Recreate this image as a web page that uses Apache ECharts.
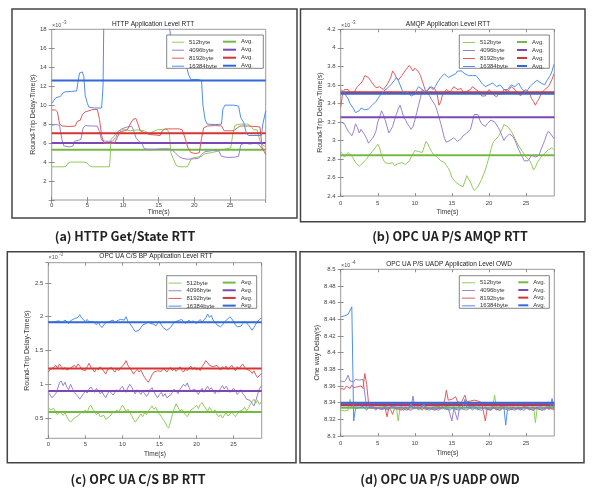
<!DOCTYPE html>
<html><head><meta charset="utf-8">
<script src="https://cdn.jsdelivr.net/npm/echarts@6/dist/echarts.min.js"></script>
<style>html,body{margin:0;padding:0;background:#fff}#c{width:602px;height:488px}</style>
</head><body><div id="c"></div>
<script>
// ---------- names ----------
const sizeNames = ['512byte', '4096byte', '8192byte', '16384byte'];
const avgNames = ['Avg.', 'Avg. ', 'Avg.  ', 'Avg.   '];
const panelTitles = ['HTTP Application Level RTT', 'AMQP Application Level RTT',
  'OPC UA C/S BP Application Level RTT', 'OPC UA P/S UADP Application Level OWD'];
const captions = ['(a) HTTP Get/State RTT', '(b) OPC UA P/S AMQP RTT', '(c) OPC UA C/S BP RTT', '(d) OPC UA P/S UADP OWD'];
const yNames = ['Round-Trip Delay-Time(s)', 'Round-Trip Delay-Time(s)', 'Round-Trip Delay-Time(s)', 'One way Delay(s)'];
const exponents = ['-3', '-3', '-3', '-4'];

// ---------- (a) HTTP, [time s, RTT x1e-3 s] ----------
const aGreen = [[0,3.5],[0.5,3.5],[1,3.5],[1.6,3.5],[2.0,3.55],[2.3,3.9],[2.6,4.0],[3.5,4.0],[4.5,4.0],[4.9,3.95],[5.3,3.6],[5.7,3.5],[6.5,3.5],[7.5,3.5],[8.1,3.5],[8.2,4.5],[8.3,6.4],[8.6,6.6],[9.0,7.0],[9.4,7.3],[9.8,7.4],[10.5,7.4],[11.0,7.3],[11.5,7.35],[12.2,7.4],[13.0,7.3],[13.6,7.0],[14.2,7.2],[14.8,7.4],[15.5,7.45],[16.2,7.45],[16.5,7.0],[16.7,5.0],[17.0,4.4],[17.5,3.6],[18.0,3.5],[19.0,3.5],[19.3,3.9],[19.6,4.4],[20.3,4.5],[21.0,4.6],[21.5,4.9],[22.5,5.0],[23.5,5.2],[24.5,5.4],[25.1,5.5],[25.4,7.0],[25.7,7.9],[26.5,8.0],[27.5,8.0],[27.9,7.8],[28.3,7.4],[28.8,7.4],[29.2,6.2],[29.6,5.8],[30,5.6]];
const aPurple = [[0,7.9],[0.6,7.95],[1.1,7.9],[1.4,6.5],[1.7,5.7],[2.5,5.6],[3.0,5.7],[3.2,6.2],[3.8,6.3],[4.1,6.4],[4.4,7.6],[4.7,7.85],[5.5,7.8],[6.4,7.8],[6.7,7.2],[7.0,6.3],[7.5,6.2],[8.5,6.2],[9.0,6.6],[9.3,7.2],[9.8,7.5],[10.6,7.7],[11.2,7.8],[11.5,7.3],[11.8,6.6],[12.2,6.2],[12.6,6.0],[13.0,5.4],[13.5,5.35],[14.5,5.35],[15.5,5.4],[16.3,5.4],[16.8,5.3],[17.3,5.0],[17.8,4.6],[18.3,4.4],[19.0,4.3],[20.0,4.35],[20.6,4.4],[21.0,4.8],[21.5,5.1],[22.5,5.2],[23.4,5.2],[23.8,4.6],[24.5,4.5],[25.5,4.5],[26.2,4.6],[26.5,5.8],[27.0,6.0],[27.8,5.9],[28.5,6.0],[29.0,5.9],[29.5,5.4],[30,5.3]];
const aRed = [[0,9.5],[0.5,9.5],[0.8,9.3],[1.1,8.0],[1.5,7.8],[2.5,7.75],[3.3,7.8],[3.6,8.3],[4.0,8.4],[4.3,9.0],[4.7,9.3],[5.2,9.4],[5.8,9.55],[6.4,9.55],[6.7,8.5],[7.0,6.8],[7.3,6.0],[8.0,5.95],[8.8,6.0],[9.2,6.6],[9.6,7.2],[10.2,7.3],[10.6,7.4],[11.0,8.0],[11.4,8.5],[11.8,8.6],[12.1,8.0],[12.4,7.3],[13.0,7.1],[13.8,6.9],[14.6,6.85],[15.2,6.8],[15.5,7.3],[15.9,7.5],[17.0,7.5],[17.9,7.5],[18.3,7.4],[18.7,6.5],[19.1,5.5],[19.5,5.0],[20.2,4.9],[20.7,5.0],[21.0,6.5],[21.3,7.6],[21.8,7.8],[23.0,7.85],[23.8,7.8],[24.2,7.3],[25.0,7.3],[25.5,7.3],[26.0,7.6],[26.4,7.8],[27.5,7.8],[28.5,7.75],[29.2,7.7],[29.5,5.5],[30,4.8]];
const aBlue = [[0,10.2],[0.3,10.5],[0.6,10.8],[1.2,10.9],[1.6,11.3],[1.9,11.4],[2.8,11.45],[3.5,11.5],[3.7,12.5],[3.9,13.4],[4.3,13.5],[4.5,13.0],[4.7,11.0],[5.0,10.2],[5.2,9.8],[6.0,9.7],[7.0,9.7],[7.2,12],[7.3,18.5],[7.5,20],[16.2,20],[16.4,19],[16.7,17.0],[17.3,16.0],[18.2,15.0],[18.8,14.3],[19.2,13.2],[19.5,12.7],[20.5,12.7],[21.0,12.6],[21.2,10.0],[21.5,8.5],[21.8,8.0],[23.0,7.95],[23.8,8.0],[24.0,9.6],[24.3,10.0],[25.5,10.0],[26.2,9.9],[26.5,8.7],[26.9,8.2],[27.3,7.0],[27.6,6.8],[28.5,6.8],[29.4,6.8],[29.6,8.0],[30,9.4]];
const aAvg = [5.3, 6.0, 7.05, 12.6];

// ---------- (b) AMQP, every 0.25 s, x1e-3 s ----------
const bGreen = [2.88,2.85,2.82,2.84,2.87,2.85,2.83,2.80,2.76,2.74, 2.72,2.73,2.76,2.78,2.80,2.83,2.85,2.88,2.90,2.93, 2.96,2.92,2.84,2.79,2.76,2.77,2.75,2.77,2.76,2.73, 2.72,2.75,2.74,2.76,2.77,2.74,2.75,2.78,2.82,2.84, 2.89,2.91,2.88,2.86,2.87,2.93,2.99,2.96,2.92,2.88, 2.85,2.84,2.82,2.80,2.78,2.79,2.76,2.73,2.70,2.66, 2.60,2.58,2.55,2.56,2.52,2.51,2.50,2.56,2.62,2.58, 2.55,2.50,2.46,2.48,2.50,2.54,2.58,2.63,2.68,2.75, 2.82,2.90,2.97,3.00,3.02,3.04,3.06,3.12,3.17,3.18, 3.15,3.13,3.10,3.06,3.02,2.98,2.94,2.92,2.88,2.85, 2.82,2.80,2.78,2.74,2.68,2.71,2.76,2.79,2.82,2.84, 2.86,2.88,2.90,2.92,2.92,2.90];
const bPurple = [3.20,3.22,3.18,3.14,3.10,3.08,3.05,3.10,3.18,3.14, 3.08,3.12,3.10,3.06,3.02,2.97,2.95,3.02,3.05,3.10, 3.20,3.25,3.32,3.28,3.22,3.15,3.08,3.10,3.15,3.22, 3.28,3.34,3.38,3.32,3.25,3.22,3.18,3.15,3.12,3.15, 3.22,3.30,3.38,3.46,3.55,3.57,3.52,3.50,3.48,3.44, 3.42,3.38,3.32,3.25,3.18,3.10,3.02,2.98,2.97,3.00, 3.00,3.03,3.02,2.99,2.98,3.02,3.05,3.03,3.08,3.10, 3.12,3.20,3.28,3.30,3.28,3.22,3.18,3.16,3.15,3.18, 3.20,3.22,3.22,3.20,3.18,3.14,3.10,3.05,3.00,3.03, 3.05,3.07,3.08,3.04,3.00,2.95,2.90,2.86,2.82,2.78, 2.76,2.78,2.80,2.84,2.85,2.82,2.80,2.84,2.90,2.95, 3.00,3.06,3.10,3.08,3.05,3.02];
const bRed = [3.36,3.50,3.55,3.53,3.55,3.52,3.53,3.50,3.55,3.58, 3.60,3.62,3.65,3.70,3.72,3.68,3.65,3.62,3.60,3.57, 3.55,3.58,3.57,3.55,3.56,3.60,3.62,3.68,3.75,3.72, 3.68,3.65,3.66,3.70,3.72,3.76,3.78,3.81,3.78,3.75, 3.78,3.80,3.74,3.70,3.64,3.58,3.52,3.55,3.56,3.58, 3.60,3.55,3.50,3.38,3.42,3.50,3.52,3.55,3.53,3.52, 3.55,3.58,3.56,3.55,3.54,3.56,3.52,3.50,3.53,3.52, 3.55,3.58,3.56,3.55,3.53,3.52,3.48,3.50,3.48,3.52, 3.55,3.53,3.50,3.48,3.47,3.50,3.52,3.50,3.55,3.56, 3.53,3.55,3.58,3.56,3.55,3.52,3.50,3.48,3.52,3.50, 3.55,3.53,3.50,3.45,3.42,3.38,3.42,3.45,3.50,3.52, 3.55,3.56,3.58,3.60,3.66,3.72];
const bBlue = [3.55,3.53,3.52,3.48,3.45,3.40,3.38,3.34,3.30,3.31, 3.32,3.35,3.36,3.33,3.32,3.34,3.35,3.38,3.40,3.42, 3.45,3.48,3.50,3.53,3.55,3.56,3.58,3.60,3.62,3.65, 3.68,3.65,3.60,3.55,3.50,3.52,3.52,3.50,3.48,3.50, 3.50,3.55,3.58,3.56,3.55,3.52,3.50,3.54,3.58,3.56, 3.55,3.58,3.62,3.65,3.68,3.70,3.72,3.70,3.68,3.70, 3.70,3.72,3.72,3.75,3.76,3.75,3.74,3.72,3.72,3.70, 3.68,3.70,3.72,3.70,3.68,3.65,3.62,3.60,3.58,3.57, 3.60,3.62,3.62,3.60,3.58,3.59,3.60,3.58,3.55,3.54, 3.55,3.57,3.60,3.58,3.58,3.60,3.62,3.58,3.55,3.56, 3.52,3.55,3.58,3.60,3.62,3.64,3.65,3.63,3.62,3.60, 3.60,3.64,3.66,3.70,3.75,3.82];
const bAvg = [2.84, 3.25, 3.52, 3.505];

// ---------- (c) OPC UA C/S BP, every 0.25 s, x1e-3 s ----------
const cGreen = [0.66,0.62,0.60,0.64,0.58,0.55,0.60,0.57,0.54,0.58, 0.52,0.47,0.44,0.46,0.50,0.48,0.53,0.56,0.60,0.57, 0.62,0.58,0.66,0.69,0.63,0.60,0.55,0.58,0.52,0.50, 0.54,0.48,0.46,0.52,0.55,0.60,0.57,0.62,0.58,0.64, 0.69,0.65,0.60,0.63,0.58,0.54,0.48,0.44,0.48,0.52, 0.56,0.52,0.58,0.55,0.60,0.64,0.68,0.63,0.66,0.60, 0.56,0.52,0.48,0.44,0.38,0.35,0.45,0.55,0.64,0.71, 0.66,0.60,0.63,0.58,0.55,0.52,0.57,0.62,0.60,0.66, 0.69,0.64,0.70,0.73,0.68,0.64,0.60,0.66,0.62,0.58, 0.62,0.56,0.52,0.55,0.50,0.54,0.58,0.53,0.56,0.60, 0.55,0.52,0.56,0.60,0.58,0.62,0.66,0.61,0.64,0.70, 0.74,0.78,0.72,0.76,0.70,0.74];
const cPurple = [0.88,0.84,0.80,0.78,0.86,0.93,1.02,1.05,0.98,1.03, 0.96,0.92,1.00,0.94,0.88,0.85,0.82,0.78,0.80,0.86, 0.90,0.87,0.93,0.96,0.92,0.88,0.94,0.90,0.86,0.89, 0.84,0.80,0.86,0.90,0.87,0.84,0.88,0.92,0.89,0.94, 0.97,0.91,0.88,0.95,1.00,0.96,0.90,0.86,0.92,0.88, 0.85,0.90,0.86,0.82,0.86,0.92,0.95,0.89,0.84,0.80, 0.85,0.88,0.82,0.86,0.80,0.78,0.84,0.88,0.93,0.90, 0.86,0.92,0.96,1.00,0.97,1.02,0.95,0.90,0.88,0.93, 0.89,0.85,0.90,0.94,0.88,0.93,0.97,0.92,0.95,0.90, 0.86,0.91,0.88,0.94,0.98,0.93,0.97,0.92,0.88,0.90, 0.94,0.90,0.85,0.88,0.92,0.86,0.83,0.78,0.80,0.76, 0.72,0.68,0.75,0.85,0.93,0.98];
const cRed = [1.18,1.22,1.20,1.25,1.28,1.24,1.30,1.26,1.22,1.25, 1.21,1.19,1.24,1.22,1.28,1.25,1.30,1.27,1.22,1.24, 1.20,1.26,1.31,1.25,1.22,1.18,1.24,1.21,1.26,1.23, 1.19,1.15,1.22,1.20,1.25,1.21,1.18,1.23,1.20,1.24, 1.26,1.30,1.35,1.28,1.24,1.20,1.15,1.19,1.22,1.18, 1.21,1.15,1.10,1.06,1.03,1.08,1.14,1.18,1.16,1.20, 1.22,1.19,1.24,1.21,1.18,1.22,1.25,1.20,1.23,1.19, 1.22,1.26,1.21,1.18,1.23,1.20,1.24,1.27,1.22,1.25, 1.21,1.24,1.20,1.26,1.30,1.35,1.32,1.28,1.30,1.26, 1.24,1.28,1.25,1.21,1.26,1.23,1.27,1.22,1.25,1.28, 1.24,1.20,1.26,1.23,1.27,1.30,1.25,1.22,1.24,1.20, 1.16,1.20,1.14,1.10,1.12,1.16];
const cBlue = [1.93,1.91,1.92,1.90,1.93,1.92,1.94,1.91,1.92,1.95, 1.93,1.90,1.94,1.92,1.97,1.95,1.99,2.03,1.98,1.96, 1.93,1.96,1.92,1.90,1.93,1.91,1.88,1.92,1.87,1.84, 1.88,1.91,1.90,1.93,1.92,1.95,1.91,1.94,1.92,1.96, 1.98,1.95,2.00,1.93,1.90,1.86,1.82,1.78,1.77,1.80, 1.84,1.88,1.86,1.90,1.93,1.90,1.92,1.89,1.86,1.90, 1.93,1.88,1.84,1.86,1.80,1.79,1.84,1.88,1.92,1.90, 1.94,1.92,1.96,1.93,1.90,1.92,1.95,1.91,1.94,1.92, 1.90,1.93,1.96,1.92,1.95,1.98,2.04,1.99,2.02,1.95, 1.92,1.88,1.86,1.85,1.88,1.92,1.94,1.97,2.00,1.97, 1.93,1.88,1.85,1.83,1.86,1.90,1.93,1.91,1.88,1.84, 1.80,1.84,1.89,1.93,1.96,1.98];
const cAvg = [0.59, 0.90, 1.235, 1.92];

// ---------- (d) OPC UA P/S UADP OWD, every 0.25 s, x1e-4 s ----------
const dGreen = [8.331,8.333,8.330,8.332,8.331,8.344,8.334,8.332,8.335,8.333, 8.334,8.332,8.335,8.333,8.334,8.332,8.335,8.333,8.334,8.336, 8.333,8.335,8.334,8.332,8.336,8.334,8.333,8.335,8.334,8.332, 8.335,8.318,8.334,8.336,8.333,8.335,8.334,8.332,8.335,8.333, 8.334,8.336,8.333,8.335,8.332,8.334,8.336,8.333,8.335,8.334, 8.332,8.335,8.333,8.336,8.334,8.332,8.335,8.333,8.336,8.334, 8.333,8.335,8.332,8.334,8.336,8.333,8.335,8.334,8.332,8.335, 8.333,8.336,8.334,8.332,8.335,8.333,8.334,8.336,8.333,8.335, 8.334,8.332,8.335,8.349,8.334,8.332,8.335,8.333,8.336,8.334, 8.332,8.335,8.333,8.334,8.336,8.333,8.335,8.332,8.334,8.336, 8.333,8.335,8.334,8.332,8.335,8.316,8.334,8.336,8.333,8.335, 8.334,8.332,8.335,8.333,8.336,8.334];
const dPurple = [8.366,8.367,8.365,8.368,8.373,8.366,8.367,8.365,8.368,8.366, 8.367,8.366,8.368,8.366,8.334,8.332,8.334,8.333,8.335,8.332, 8.333,8.335,8.332,8.334,8.333,8.331,8.334,8.332,8.335,8.333, 8.334,8.332,8.333,8.335,8.331,8.333,8.334,8.332,8.335,8.348, 8.333,8.331,8.334,8.332,8.335,8.333,8.331,8.334,8.332,8.333, 8.335,8.332,8.334,8.331,8.333,8.335,8.332,8.334,8.333,8.331, 8.318,8.334,8.332,8.319,8.333,8.335,8.332,8.334,8.331,8.333, 8.334,8.332,8.335,8.333,8.331,8.334,8.332,8.333,8.335,8.332, 8.334,8.331,8.333,8.335,8.332,8.334,8.331,8.333,8.334,8.332, 8.335,8.333,8.331,8.334,8.332,8.333,8.335,8.331,8.334,8.332, 8.333,8.335,8.332,8.334,8.331,8.333,8.334,8.332,8.335,8.333, 8.331,8.334,8.332,8.333,8.335,8.332];
const dRed = [8.357,8.359,8.356,8.360,8.358,8.357,8.361,8.358,8.356,8.359, 8.358,8.360,8.357,8.375,8.362,8.340,8.333,8.331,8.334,8.332, 8.333,8.335,8.332,8.334,8.333,8.323,8.334,8.331,8.326,8.333, 8.335,8.332,8.334,8.331,8.333,8.335,8.332,8.334,8.331,8.333, 8.334,8.332,8.335,8.333,8.331,8.334,8.332,8.333,8.335,8.332, 8.334,8.331,8.333,8.335,8.332,8.334,8.342,8.355,8.343,8.341, 8.344,8.342,8.347,8.341,8.343,8.340,8.342,8.349,8.341,8.343, 8.342,8.340,8.343,8.341,8.342,8.344,8.340,8.342,8.318,8.333, 8.334,8.332,8.335,8.333,8.331,8.334,8.332,8.333,8.335,8.332, 8.334,8.331,8.333,8.335,8.332,8.334,8.333,8.331,8.334,8.332, 8.335,8.333,8.331,8.334,8.332,8.333,8.335,8.332,8.334,8.331, 8.333,8.335,8.332,8.334,8.333,8.331];
const dBlue = [8.443,8.444,8.444,8.445,8.446,8.447,8.455,8.318,8.333,8.331, 8.334,8.332,8.335,8.333,8.331,8.334,8.332,8.335,8.333,8.331, 8.334,8.336,8.332,8.333,8.335,8.331,8.334,8.332,8.336,8.333, 8.331,8.334,8.333,8.335,8.332,8.334,8.331,8.333,8.339,8.333, 8.332,8.334,8.331,8.335,8.333,8.338,8.332,8.334,8.331,8.333, 8.335,8.332,8.334,8.333,8.331,8.335,8.333,8.332,8.334,8.331, 8.333,8.335,8.332,8.334,8.331,8.333,8.336,8.344,8.334,8.332, 8.334,8.331,8.333,8.335,8.332,8.334,8.331,8.333,8.335,8.332, 8.334,8.331,8.333,8.335,8.332,8.334,8.331,8.333,8.335,8.313, 8.333,8.335,8.332,8.334,8.331,8.333,8.335,8.332,8.334,8.331, 8.333,8.335,8.332,8.334,8.331,8.333,8.335,8.332,8.334,8.331, 8.333,8.334,8.332,8.335,8.345,8.333];
const dAvg = [8.334, 8.337, 8.338, 8.340];

const DT = 0.25; // sampling step of panels b-d
const timed = arr => arr.map((v, i) => [i * DT, v]);

// ---------- styling / layout ----------
const thinColors = ['#8fcc5c', '#9a80d2', '#e25a5a', '#4e8eec'];
const avgColors = ['#74b845', '#7b48b4', '#d63333', '#3169d6'];
const FONT = 'Liberation Sans, Arial, sans-serif';

const panels = [
  { data: [aGreen, aPurple, aRed, aBlue], avg: aAvg,
    grid: { left: 51.7, top: 29.3, width: 214, height: 170.7 },
    x: { max: 30, margin: 2, nameGap: 7.5 },
    y: { min: 0, max: 18, interval: 2, hideZero: true, nameGap: 13.5 },
    frame: [12, 9, 285, 209], title: [153, 24], exp: [52, 24], caption: [125, 236],
    legend: { box: [166.7, 35, 96.6, 33.3], a: [172, 12], b: [223, 13], row1: 39.7, gap: 2 } },
  { data: [timed(bGreen), timed(bPurple), timed(bRed), timed(bBlue)], avg: bAvg,
    grid: { left: 340.7, top: 29.3, width: 213.6, height: 166.7 },
    x: { max: 28.8, margin: 4, nameGap: 13 },
    y: { min: 2.4, max: 4.2, interval: 0.2, nameGap: 14 },
    frame: [300.5, 9, 284.5, 212.7], title: [448, 24], exp: [341, 24], caption: [450, 236],
    legend: { box: [459.3, 35, 90, 33.3], a: [463, 12], b: [517, 10], row1: 40, gap: 2 } },
  { data: [timed(cGreen), timed(cPurple), timed(cRed), timed(cBlue)], avg: cAvg,
    grid: { left: 48.3, top: 262.7, width: 213.4, height: 175.6 },
    x: { max: 28.8, margin: 3, nameGap: 12 },
    y: { min: 0.2, max: 2.8, split: 5, nameGap: 14.8 },
    frame: [7.3, 251.7, 288.7, 211], title: [156, 256], exp: [48.5, 256.5], caption: [138, 479],
    legend: { box: [166.7, 275.7, 90, 32.6], a: [168.5, 13], b: [222.7, 13], row1: 280.6, gap: 1.67 } },
  { data: [timed(dGreen), timed(dPurple), timed(dRed), timed(dBlue)], avg: dAvg,
    grid: { left: 340.7, top: 269.3, width: 213.6, height: 166.7 },
    x: { max: 28.8, margin: 4, nameGap: 14 },
    y: { min: 8.3, max: 8.5, interval: 0.02, nameGap: 17 },
    frame: [300, 251.7, 284, 211], title: [449, 264], exp: [341, 264], caption: [440, 479],
    legend: { box: [459.3, 275.7, 90, 32.6], a: [462, 13], b: [518.3, 10], row1: 280.3, gap: 1.67 } }
];

const fmt = v => String(+(+v).toFixed(3));
const grids = [], xAxes = [], yAxes = [], series = [], legends = [], graphics = [];

panels.forEach((p, i) => {
  grids.push(Object.assign({ show: true, borderColor: '#9a9a9a', borderWidth: 1, backgroundColor: '#fff', containLabel: false, outerBoundsMode: 'none' }, p.grid));
  const tick = { inside: true, length: 3, lineStyle: { color: '#777', width: 0.8 } };
  const xBase = { type: 'value', gridIndex: i, min: 0, max: p.x.max, interval: 5,
    splitLine: { show: false }, axisLine: { show: false }, axisTick: tick };
  xAxes.push(Object.assign({}, xBase, { position: 'bottom', name: 'Time(s)', nameLocation: 'middle', nameGap: p.x.nameGap,
    nameTextStyle: { fontFamily: FONT, fontSize: 6.5, color: '#333', verticalAlign: 'top' },
    axisLabel: { show: true, margin: p.x.margin, fontFamily: FONT, fontSize: 6, color: '#444', showMaxLabel: false, formatter: fmt } }));
  xAxes.push(Object.assign({}, xBase, { position: 'top', axisLabel: { show: false } }));
  const yBase = { type: 'value', gridIndex: i, min: p.y.min, max: p.y.max,
    splitLine: { show: false }, axisLine: { show: false }, axisTick: tick };
  if (p.y.interval) yBase.interval = p.y.interval; else yBase.splitNumber = p.y.split;
  yAxes.push(Object.assign({}, yBase, { position: 'left', name: yNames[i], nameLocation: 'middle', nameGap: p.y.nameGap,
    nameTextStyle: { fontFamily: FONT, fontSize: 7, color: '#333' },
    axisLabel: { show: true, margin: 5, fontFamily: FONT, fontSize: 6, color: '#444',
      showMinLabel: !p.y.split, showMaxLabel: !p.y.split,
      formatter: v => (p.y.hideZero && v === 0) ? '' : fmt(v) } }));
  yAxes.push(Object.assign({}, yBase, { position: 'right', axisLabel: { show: false } }));

  for (let k = 0; k < 4; k++) {
    series.push({ name: sizeNames[k], type: 'line', xAxisIndex: 2 * i, yAxisIndex: 2 * i, data: p.data[k],
      symbol: 'none', showSymbol: false, clip: true, silent: true, z: 2,
      lineStyle: { width: 1, color: thinColors[k] }, itemStyle: { color: thinColors[k] } });
    series.push({ name: avgNames[k], type: 'line', xAxisIndex: 2 * i, yAxisIndex: 2 * i,
      data: [[0, p.avg[k]], [p.x.max, p.avg[k]]],
      symbol: 'none', showSymbol: false, silent: true, z: 2,
      lineStyle: { width: 2, color: avgColors[k] }, itemStyle: { color: avgColors[k] } });
  }

  const L = p.legend;
  const legBase = { orient: 'vertical', padding: 0, itemGap: L.gap, selectedMode: false, icon: 'rect',
    textStyle: { fontFamily: FONT, fontSize: 6, color: '#333' }, z: 5 };
  legends.push(Object.assign({}, legBase, { left: L.a[0], top: L.row1 - 0.5, itemWidth: L.a[1], itemHeight: 1, data: sizeNames }));
  legends.push(Object.assign({}, legBase, { left: L.b[0], top: L.row1 - 1, itemWidth: L.b[1], itemHeight: 2, data: avgNames }));

  graphics.push({ type: 'rect', z: 3, shape: { x: L.box[0], y: L.box[1], width: L.box[2], height: L.box[3] },
    style: { fill: '#fff', stroke: '#666', lineWidth: 0.8 } });
  graphics.push({ type: 'rect', z: 1, shape: { x: p.frame[0], y: p.frame[1], width: p.frame[2], height: p.frame[3] },
    style: { fill: 'none', stroke: '#444', lineWidth: 1.5 } });
  graphics.push({ type: 'text', z: 5, x: p.title[0], y: p.title[1],
    style: { text: panelTitles[i], fontFamily: FONT, fontSize: 6.5, fill: '#222', align: 'center', verticalAlign: 'middle' } });
  graphics.push({ type: 'text', z: 5, x: p.exp[0], y: p.exp[1] + 1,
    style: { text: '\u00d710', fontFamily: FONT, fontSize: 5.5, fill: '#555', align: 'left', verticalAlign: 'middle' } });
  graphics.push({ type: 'text', z: 5, x: p.exp[0] + 10.5, y: p.exp[1] - 1.5,
    style: { text: exponents[i], fontFamily: FONT, fontSize: 4.5, fill: '#555', align: 'left', verticalAlign: 'middle' } });
  graphics.push({ type: 'text', z: 5, x: p.caption[0], y: p.caption[1],
    style: { text: captions[i], fontFamily: '"Noto Sans CJK KR", "Noto Sans", sans-serif', fontWeight: 'bold', fontSize: 12.5, fill: '#222', align: 'center', verticalAlign: 'middle' } });
});

const chart = echarts.init(document.getElementById('c'), null, { renderer: 'canvas', width: 602, height: 488 });
chart.setOption({
  animation: false,
  backgroundColor: '#fff',
  grid: grids, xAxis: xAxes, yAxis: yAxes, series: series, legend: legends,
  graphic: { elements: graphics }
});
</script></body></html>
